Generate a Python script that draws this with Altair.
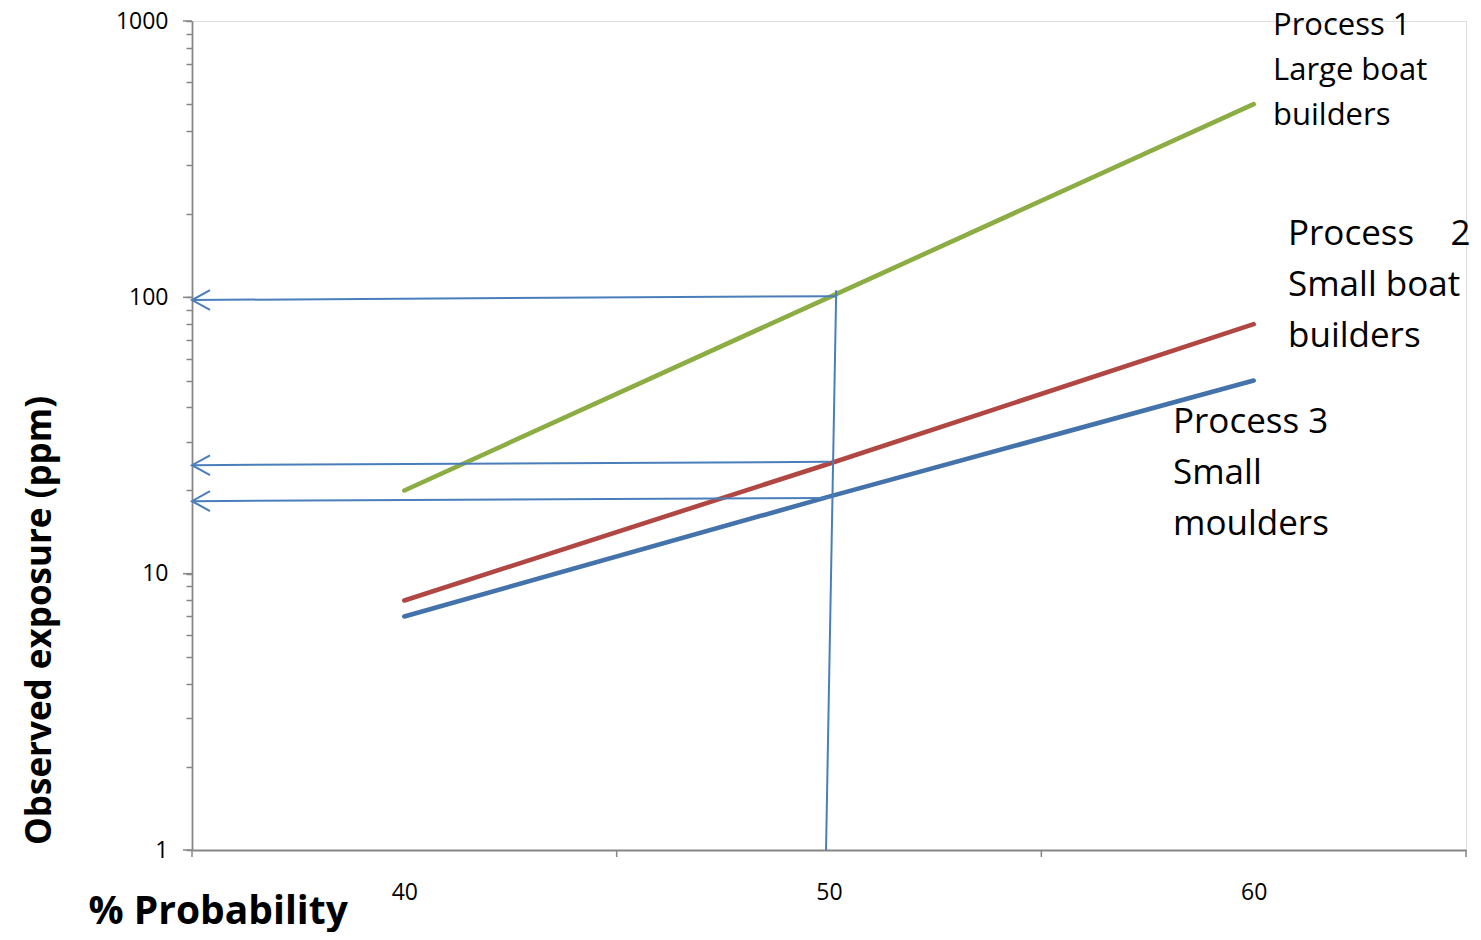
import altair as alt
import pandas as pd

# ---- data ----
probability = [40, 50, 60]
process1 = [20, 100, 500]   # Large boat builders
process2 = [8, 25, 80]      # Small boat builders
process3 = [7, 19, 50]      # Small moulders
series_names = ["Process 1", "Process 2", "Process 3"]
series_colors = ["#8cad44", "#b14743", "#4472aa"]

# guide lines: start -> end, data coordinates
guide_x = [50.17, 50.0, 50.0]
guide_y = [101.0, 25.4, 18.8]
guide_x2 = [35.0, 35.0, 35.0]
guide_y2 = [97.8, 24.7, 18.3]
vert_x, vert_y, vert_x2, vert_y2 = [50.17], [106.0], [49.93], [1.0]

y_major = [1, 10, 100, 1000]
y_ticks = [m * d for d in [1, 10, 100] for m in range(1, 10)] + [1000]
x_ticks = [35, 45, 55, 65]

rows = []
for name, vals in zip(series_names, [process1, process2, process3]):
    for p, v in zip(probability, vals):
        rows.append({"series": name, "prob": p, "value": v})
df = pd.DataFrame(rows)

guides = pd.DataFrame({"x": guide_x + vert_x, "y": guide_y + vert_y,
                       "x2": guide_x2 + vert_x2, "y2": guide_y2 + vert_y2})
heads = pd.DataFrame({"x": guide_x2, "y": guide_y2})

W, H = 1274, 829
FONT = "Open Sans"

xscale = alt.Scale(domain=[35, 65], nice=False, zero=False)
yscale = alt.Scale(type="log", domain=[1, 1000], nice=False)

xaxis = alt.Axis(
    values=probability, grid=False, ticks=False,
    domainColor="#868686", domainWidth=1.8, format="d",
    labelPadding=31, labelFontSize=23, labelFont=FONT,
    labelColor="#000000", labelBaseline="top", labelOverlap=False,
    title="% Probability", titleFont=FONT, titleFontSize=39, titleFontWeight="bold",
    titleColor="#000000", titleAnchor="start", titleAlign="left",
    titleBaseline="alphabetic", titleX=-104, titleY=73,
)
yaxis = alt.Axis(
    values=y_ticks, grid=False, tickSize=6, tickColor="#868686", tickWidth=1.5,
    domainColor="#868686", domainWidth=1.8,
    labelExpr="(datum.value == 1 || datum.value == 10 || datum.value == 100 || datum.value == 1000) ? format(datum.value, 'd') : ''",
    labelPadding=18, labelFontSize=23, labelFont=FONT, labelColor="#000000",
    labelOverlap=False, labelBaseline="middle",
    title="Observed exposure (ppm)", titleFont=FONT, titleFontSize=35,
    titleFontWeight="bold", titleColor="#000000", titleAngle=270,
    titleAlign="center", titleBaseline="alphabetic", titleX=-142, titleY=599,
)

lines = alt.Chart(df).mark_line(strokeWidth=4.6, strokeCap="round").encode(
    x=alt.X("prob:Q", scale=xscale, axis=xaxis),
    y=alt.Y("value:Q", scale=yscale, axis=yaxis),
    color=alt.Color("series:N", scale=alt.Scale(domain=series_names, range=series_colors), legend=None),
)

major_ticks = alt.Chart(pd.DataFrame({"v": y_major})).mark_rule(
    color="#868686", strokeWidth=1.5).encode(
    y=alt.Y("v:Q", scale=yscale), x=alt.value(-9), x2=alt.value(0))

x_tick_marks = alt.Chart(pd.DataFrame({"v": x_ticks})).mark_rule(
    color="#868686", strokeWidth=1.5).encode(
    x=alt.X("v:Q", scale=xscale), y=alt.value(H), y2=alt.value(H + 7))

guide_rules = alt.Chart(guides).mark_rule(color="#4a7ebb", strokeWidth=2).encode(
    x=alt.X("x:Q", scale=xscale), y=alt.Y("y:Q", scale=yscale),
    x2="x2:Q", y2="y2:Q")

arrow_heads = alt.Chart(heads).mark_point(
    shape="M 1 -0.55 L 0 0 L 1 0.55", size=1296, filled=False,
    stroke="#4a7ebb", strokeWidth=2, opacity=1).encode(
    x=alt.X("x:Q", scale=xscale), y=alt.Y("y:Q", scale=yscale))

def label(text, x, y, size, lh):
    return alt.Chart(pd.DataFrame({"t": [0]})).mark_text(
        text=text, lineBreak="\n", lineHeight=lh, font=FONT, fontSize=size,
        align="left", baseline="alphabetic", color="#000000").encode(
        x=alt.value(x), y=alt.value(y))

lab1 = label("Process 1\nLarge boat\nbuilders", 1081, 14, 31, 45)
lab2 = label("Process\u00a0\u00a0\u00a0\u00a02\nSmall boat\nbuilders", 1096, 224, 35, 51)
lab3 = label("Process 3\nSmall\nmoulders", 981, 412, 35, 51)
stray = alt.Chart(pd.DataFrame({"t": [0]})).mark_text(
    text="e", font=FONT, fontSize=46, align="right", baseline="alphabetic",
    color="#000000").encode(x=alt.value(-183), y=alt.value(279))

chart = alt.layer(
    major_ticks, x_tick_marks, lines, guide_rules, arrow_heads, lab1, lab2, lab3, stray
).properties(
    width=W, height=H,
    autosize=alt.AutoSizeParams(type="none"),
    padding={"left": 184, "top": 13, "right": 7, "bottom": 82},
).configure_view(stroke=None).configure(background="#ffffff")

chart.save("out.html", embed_options={"renderer": "svg", "actions": False})
